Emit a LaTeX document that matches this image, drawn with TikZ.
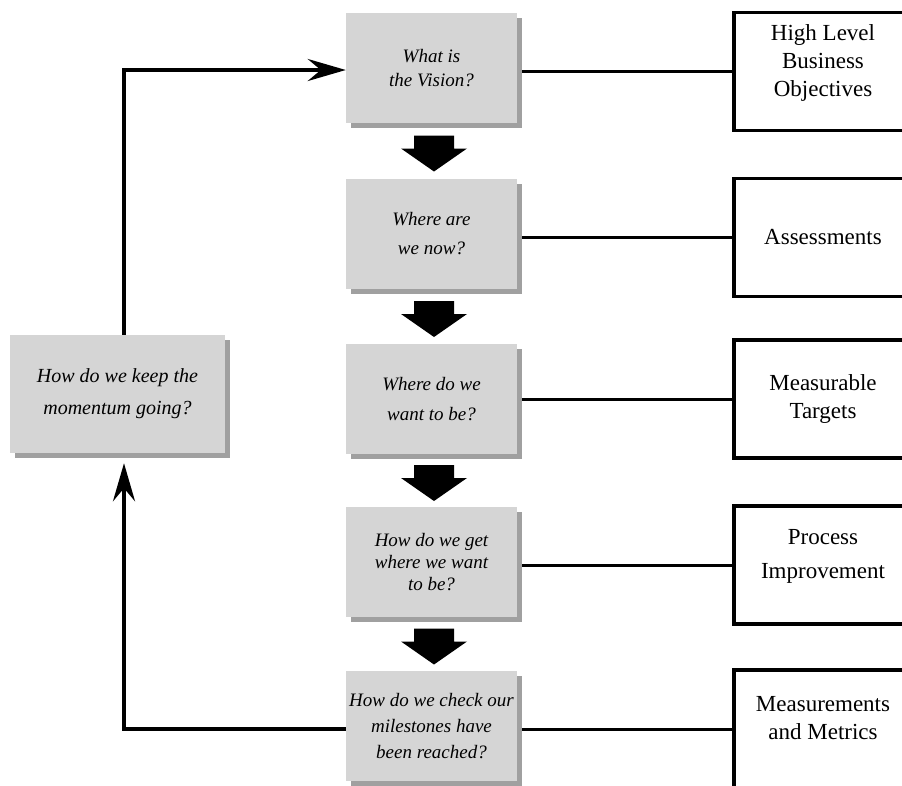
\documentclass[tikz,border=0pt]{standalone}
\usepackage{fontspec}
\setmainfont{Liberation Serif}
\usetikzlibrary{arrows.meta,calc,shadows}

\definecolor{facegray}{RGB}{213,213,213}
\definecolor{shadegray}{RGB}{160,160,160}

\tikzset{
  qbox/.style={fill=facegray, minimum width=171pt, minimum height=110pt,
    inner sep=0pt, align=center, text=black,
    font=\itshape\fontsize{19}{24}\selectfont,
    drop shadow={shadow xshift=5pt, shadow yshift=-5pt, fill=shadegray, opacity=1}},
  abox/.style={draw=black, line width=3.5pt, minimum width=178pt, minimum height=118pt,
    inner sep=0pt},
  atext/.style={align=center, font=\fontsize{23}{28}\selectfont, inner sep=0pt},
  link/.style={draw=black, line width=3pt},
  loopline/.style={draw=black, line width=4pt,
    -{Stealth[length=38pt, width=22pt, inset=13pt]}},
  blockarrow/.style={fill=black}
}

% solid down arrow in the gap between two question boxes
\newcommand\gaparrow[2]{%
  \coordinate (m#1) at ($($(#1.south)!0.5!(#2.north)$)+(2.5,2.5)$);
  \fill[blockarrow] ($(m#1)+(-20,-18)$) -- ($(m#1)+(20,-18)$) -- ($(m#1)+(20,-5)$)
    -- ($(m#1)+(33,-5)$) -- ($(m#1)+(0,18)$) -- ($(m#1)+(-33,-5)$)
    -- ($(m#1)+(-20,-5)$) -- cycle;}

\begin{document}
\begin{tikzpicture}[x=1pt,y=-1pt]
\useasboundingbox (0,0) rectangle (902,785);
\clip (0,0) rectangle (902,785);
\fill[white] (0,0) rectangle (902,785);

% question column
\node[qbox] (q1) at (431.5,68)  {What is\\the Vision?};
\node[qbox, font=\itshape\fontsize{19}{29}\selectfont] (q2) at (431.5,234) {Where are\\we now?};
\node[qbox, font=\itshape\fontsize{19}{30}\selectfont] (q3) at (431.5,399) {Where do we\\want to be?};
\node[qbox, font=\itshape\fontsize{19}{22}\selectfont] (q4) at (431.5,562) {How do we get\\where we want\\to be?};
\node[qbox, font=\itshape\fontsize{19}{26}\selectfont] (q5) at (431.5,726) {How do we check our\\milestones have\\been reached?};

% feedback box
\node[qbox, minimum width=215pt, minimum height=118pt,
      font=\itshape\fontsize{20}{32}\selectfont] (keep) at (117.5,394)
      {How do we keep the\\momentum going?};

% answer boxes
\node[abox] (a1) at (823,71.5) {};
\node[abox] (a2) at (823,237.5) {};
\node[abox] (a3) at (823,399) {};
\node[abox] (a4) at (823,565) {};
\node[abox] (a5) at (823,729) {};

\node[atext] (t1) at ([yshift=9pt]a1.center) {High Level\\Business\\Objectives};
\node[atext] (t2) at (a2.center) {Assessments};
\node[atext] (t3) at (a3.center) {Measurable\\Targets};
\node[atext, font=\fontsize{23}{34}\selectfont] (t4) at ([yshift=9pt]a4.center) {Process\\Improvement};
\node[atext] (t5) at ([yshift=11pt]a5.center) {Measurements\\and Metrics};

% links from questions to answers
\foreach \i in {1,...,5}{
  \draw[link] ([xshift=5pt]q\i.east |- a\i.west) -- (a\i.west);
}

% flow arrows down the column
\gaparrow{q1}{q2}
\gaparrow{q2}{q3}
\gaparrow{q3}{q4}
\gaparrow{q4}{q5}

% feedback loop
\coordinate (loopx) at (124,0);
\draw[loopline] (loopx |- keep.north) -- (loopx |- 0,70) -- (q1.west |- 0,70);
\draw[loopline] (q5.west |- 0,729) -- (loopx |- 0,729) -- ($(loopx |- keep.south)+(0,10)$);
\end{tikzpicture}
\end{document}
